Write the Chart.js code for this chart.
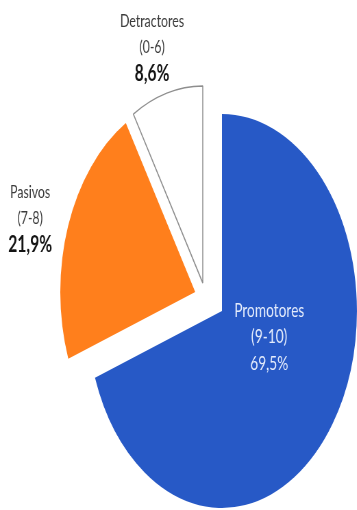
<!DOCTYPE html>
<html>
<head>
<meta charset="utf-8">
<script src="https://cdn.jsdelivr.net/npm/chart.js@4/dist/chart.umd.min.js"></script>
<style>
  html, body { margin: 0; padding: 0; background: #fff; overflow: hidden; }
  /* the source pie is squeezed horizontally, so draw it round and squeeze the box */
  #wrap { width: 521px; height: 510px; transform: scaleX(0.685); transform-origin: 0 0; }
</style>
</head>
<body>
<div id="wrap"><canvas id="npsChart"></canvas></div>
<script>
// Data
const categories = ['Promotores', 'Pasivos', 'Detractores'];
const ranges = ['(9-10)', '(7-8)', '(0-6)'];
const shares = [69.5, 21.9, 8.6];

const sliceColors = ['#2759c6', '#ff7f1c', '#ffffff'];

// how far each slice is pulled away from the centre (px, before squeeze)
const explode = [[0, 0], [-39, -19], [-28, -28]];

// label block per slice: centre x, first line y, font sizes, colours
const labelStyle = [
    { x: 393, y: 311, size: 20, pctSize: 20, color: '#e4ecfc', pctColor: '#e4ecfc', pctBold: false },
    { x: 44, y: 192, size: 18, pctSize: 23, color: '#3c3c3c', pctColor: '#141414', pctBold: true },
    { x: 222, y: 21, size: 18, pctSize: 23, color: '#3c3c3c', pctColor: '#141414', pctBold: true }
];

const explodePlugin = {
    id: 'explode',
    afterDatasetUpdate(chart, args) {
        const meta = chart.getDatasetMeta(args.index);
        meta.data.forEach((arc, i) => {
            arc.x += explode[i][0];
            arc.y += explode[i][1];
        });
    }
};

const labelPlugin = {
    id: 'sliceLabels',
    afterDraw(chart) {
        const ctx = chart.ctx;
        ctx.save();
        ctx.textAlign = 'center';
        ctx.textBaseline = 'middle';
        categories.forEach((name, i) => {
            const s = labelStyle[i];
            ctx.fillStyle = s.color;
            ctx.font = s.size + 'px Lato, sans-serif';
            ctx.fillText(name, s.x, s.y);
            ctx.fillText(ranges[i], s.x, s.y + 26);
            ctx.fillStyle = s.pctColor;
            ctx.font = (s.pctBold ? 'bold ' : '') + s.pctSize + 'px Lato, sans-serif';
            ctx.fillText(shares[i].toFixed(1).replace('.', ',') + '%', s.x, s.y + 53);
        });
        ctx.restore();
    }
};

new Chart(document.getElementById('npsChart'), {
    type: 'pie',
    data: {
        labels: categories,
        datasets: [{
            data: shares,
            backgroundColor: sliceColors,
            borderColor: ['#ffffff', '#ffffff', '#8e8e8e'],
            borderWidth: [0, 0, 1.5]
        }]
    },
    options: {
        responsive: true,
        maintainAspectRatio: false,
        animation: false,
        events: [],
        radius: 197,
        layout: { padding: { left: 127, top: 112, right: 0, bottom: 0 } },
        plugins: {
            legend: { display: false },
            tooltip: { enabled: false }
        }
    },
    plugins: [explodePlugin, labelPlugin]
});
</script>
</body>
</html>
